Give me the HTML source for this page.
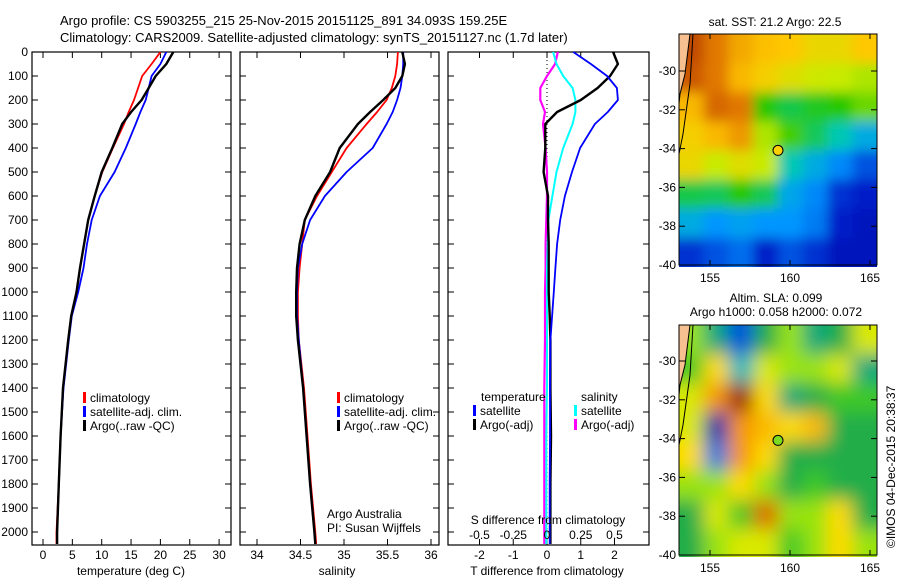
<!DOCTYPE html>
<html><head><meta charset="utf-8"><style>
body{margin:0;background:#fff}
svg{display:block;font-family:"Liberation Sans",sans-serif;font-size:12px}
</style></head><body>
<svg id="fig" width="900" height="580" viewBox="0 0 900 580" xmlns="http://www.w3.org/2000/svg">
<defs><filter id="blur" x="-20%" y="-20%" width="140%" height="140%"><feGaussianBlur stdDeviation="9"/></filter>
<filter id="blur2" x="-20%" y="-20%" width="140%" height="140%"><feGaussianBlur stdDeviation="6"/></filter>
<clipPath id="c1"><rect x="679" y="34" width="198" height="233"/></clipPath>
<clipPath id="c2"><rect x="679" y="325" width="198" height="232"/></clipPath></defs>
<text x="60" y="25" font-size="13">Argo profile: CS 5903255_215 25-Nov-2015 20151125_891 34.093S 159.25E</text>
<text x="60" y="42" font-size="13">Climatology: CARS2009. Satellite-adjusted climatology: synTS_20151127.nc (1.7d later)</text>
<g id="g"></g>
</svg>
<script>
// depth levels (dbar)
const depths=[0,50,100,150,200,250,300,400,500,600,700,800,900,1000,1100,1200,1400,1600,1800,2000,2050];
// temperature (deg C)
const tempArgo=[22.2,21.0,19.2,18.0,16.8,15.0,13.5,11.8,10.0,8.8,7.7,7.0,6.3,5.7,4.8,4.3,3.4,3.0,2.7,2.4,2.4];
const tempClim=[20.0,18.5,16.9,16.2,15.5,14.6,13.8,11.9,10.1,8.8,7.7,7.0,6.3,5.7,4.8,4.3,3.4,3.0,2.7,2.3,2.3];
const tempSat=[21.0,20.0,18.5,18.0,17.5,16.6,15.8,14.1,12.2,9.7,8.3,7.5,6.9,6.0,4.9,4.4,3.5,3.0,2.7,2.4,2.4];
// salinity
const salArgo=[35.67,35.70,35.67,35.59,35.45,35.30,35.16,34.95,34.84,34.67,34.55,34.49,34.46,34.45,34.45,34.47,34.53,34.57,34.61,34.66,34.67];
const salClim=[35.62,35.61,35.59,35.55,35.49,35.38,35.26,35.03,34.86,34.69,34.55,34.52,34.49,34.47,34.47,34.48,34.54,34.58,34.62,34.67,34.68];
const salSat=[35.68,35.68,35.67,35.65,35.61,35.56,35.49,35.33,35.03,34.78,34.61,34.52,34.47,34.46,34.46,34.48,34.53,34.57,34.61,34.66,34.67];
// differences from climatology
const dTArgo=[1.96,2.1,1.87,1.5,1.0,0.3,-0.05,-0.05,-0.1,0.03,0.03,0.05,0.05,0.05,0.08,0.1,0.1,0.12,0.1,0.1,0.1];
const dTSat=[0.78,1.3,1.78,2.07,2.1,1.8,1.42,0.98,0.74,0.53,0.39,0.3,0.25,0.2,0.15,0.1,0.09,0.09,0.08,0.08,0.08];
const dSSat=[0.045,0.07,0.12,0.19,0.21,0.21,0.19,0.12,0.07,0.04,0.01,0.005,0,0,0,0,0,-0.005,-0.005,-0.005,-0.005];
const dSArgo=[0.08,0.06,0.0,-0.05,-0.05,-0.015,-0.03,-0.01,0,0,-0.005,-0.01,-0.01,-0.015,-0.015,-0.015,-0.02,-0.02,-0.02,-0.02,-0.02];
const depthTicks=[0,100,200,300,400,500,600,700,800,900,1000,1100,1200,1300,1400,1500,1600,1700,1800,1900,2000];
const tTicks=[0,5,10,15,20,25,30];
const sTicks=[34,34.5,35,35.5,36];
const dTTicks=[-2,-1,0,1,2];
const dSTicks=[-0.5,-0.25,0,0.25,0.5];
const latTicks=[-30,-32,-34,-36,-38,-40];
const lonTicks=[155,160,165];
// SST map grid (colour index 0..1), rows north->south
const sstGrid=[
[0.88,0.82,0.76,0.73,0.72,0.68,0.68,0.72],
[0.86,0.82,0.74,0.70,0.66,0.63,0.62,0.60],
[0.74,0.84,0.82,0.50,0.46,0.48,0.50,0.55],
[0.70,0.74,0.78,0.60,0.52,0.45,0.40,0.34],
[0.68,0.62,0.66,0.62,0.40,0.34,0.28,0.20],
[0.46,0.45,0.50,0.45,0.33,0.28,0.15,0.12],
[0.34,0.30,0.32,0.30,0.30,0.26,0.12,0.10],
[0.15,0.20,0.24,0.12,0.20,0.15,0.10,0.10]];
// SLA map grid (m-ish, -1..1)
const slaGrid=[
[0.1,-0.2,-0.6,-0.1,0.1,-0.2,-0.1,0.2],
[0.0,0.3,-0.3,0.2,0.1,0.1,0.2,-0.2],
[0.2,0.5,0.9,0.3,-0.2,-0.1,0.0,0.0],
[0.2,-0.8,0.5,0.4,0.3,0.4,-0.1,-0.1],
[0.3,-0.5,0.5,0.3,-0.1,-0.1,-0.1,-0.1],
[0.1,0.1,0.3,0.1,-0.1,0.0,-0.1,-0.1],
[-0.1,0.2,0.0,0.6,0.1,0.1,0.3,-0.1],
[-0.1,0.1,0.2,0.2,0.0,0.1,0.3,0.1]];

const NS="http://www.w3.org/2000/svg";const G=document.getElementById('g');
function mk(t,a,p){const e=document.createElementNS(NS,t);for(const k in a)e.setAttribute(k,a[k]);(p||G).appendChild(e);return e;}
const Y=d=>52+d*0.24;
function panel(x0,x1,X,ticks,fmt,name){
  const r=mk('rect',{x:x0,y:52,width:x1-x0,height:493,fill:'none',stroke:'#000','stroke-width':1.2});
  
  
  depthTicks.forEach(d=>{mk('line',{x1:x0,x2:x0+6,y1:Y(d),y2:Y(d),stroke:'#000'});mk('line',{x1:x1-6,x2:x1,y1:Y(d),y2:Y(d),stroke:'#000'});});
  ticks.forEach(v=>{const x=X(v);mk('line',{x1:x,x2:x,y1:545,y2:539,stroke:'#000'});mk('line',{x1:x,x2:x,y1:52,y2:58,stroke:'#000'});
    if(fmt){const t=mk('text',{x:x,y:559,'text-anchor':'middle'});t.textContent=fmt(v);
    
    }});
}
function line(X,vals,col,w,name){const p=depths.map((d,i)=>X(vals[i]).toFixed(1)+','+Y(d).toFixed(1)).join(' ');
  const e=mk('polyline',{points:p,fill:'none',stroke:col,'stroke-width':w,'stroke-linejoin':'round'});
  
  }
function txt(x,y,s,name,a){const t=mk('text',Object.assign({x:x,y:y},a||{}));t.textContent=s;
  
  return t;}
function leg(x,y,col,s,name){mk('rect',{x:x,y:y-10,width:3,height:11,fill:col});txt(x+7,y,s,name);}
// panel 1
const XT=v=>43+v*5.87;
panel(32,231,XT,tTicks,v=>v,'temperature-panel');
depthTicks.forEach(d=>txt(28,Y(d)+4,d,'depth-tick-label',{'text-anchor':'end'}));
line(XT,tempClim,'#f00',1.8,'temp-climatology-line');line(XT,tempSat,'#00f',1.8,'temp-satellite-line');line(XT,tempArgo,'#000',2.4,'temp-argo-line');
txt(131,575,'temperature (deg C)','x-axis-title-temperature',{'text-anchor':'middle'});
leg(83,402,'#f00','climatology','legend-climatology');leg(83,416,'#00f','satellite-adj. clim.','legend-satellite');leg(83,430,'#000','Argo(..raw -QC)','legend-argo');
// panel 2
const XS=v=>257+(v-34)*87;
panel(240,439,XS,sTicks,v=>v,'salinity-panel');
line(XS,salClim,'#f00',1.8,'sal-climatology-line');line(XS,salSat,'#00f',1.8,'sal-satellite-line');line(XS,salArgo,'#000',2.4,'sal-argo-line');
txt(337,575,'salinity','x-axis-title-salinity',{'text-anchor':'middle'});
leg(337,402,'#f00','climatology','legend-climatology');leg(337,416,'#00f','satellite-adj. clim.','legend-satellite');leg(337,430,'#000','Argo(..raw -QC)','legend-argo');
txt(327,518,'Argo Australia','credit-argo');txt(327,532,'PI: Susan Wijffels','credit-pi');
// panel 3
const XD=v=>547+v*33.75, XDS=v=>547+v*135;
panel(448,649,XD,dTTicks,v=>v,'difference-panel');
mk('line',{x1:547,x2:547,y1:52,y2:545,stroke:'#000','stroke-dasharray':'1,3'});
line(XDS,dSArgo,'#f0f',2.2,'sdiff-argo-line');line(XDS,dSSat,'#0ff',2,'sdiff-satellite-line');
line(XD,dTArgo,'#000',2.4,'tdiff-argo-line');line(XD,dTSat,'#00f',1.8,'tdiff-satellite-line');
dSTicks.forEach(v=>txt(XDS(v),539,v,'sdiff-tick-label',{'text-anchor':'middle'}));
txt(548,524,'S difference from climatology','sdiff-axis-title',{'text-anchor':'middle'});
txt(547,575,'T difference from climatology','tdiff-axis-title',{'text-anchor':'middle'});
txt(481,401,'temperature','legend-temperature-head');txt(581,401,'salinity','legend-salinity-head');
leg(473,415,'#00f','satellite','legend-t-satellite');leg(473,429,'#000','Argo(-adj)','legend-t-argo');
leg(574,415,'#0ff','satellite','legend-s-satellite');leg(574,429,'#f0f','Argo(-adj)','legend-s-argo');
// maps
function jet(v){const st=[[0,[0,0,130]],[0.12,[0,30,200]],[0.3,[0,150,255]],[0.4,[0,200,180]],[0.5,[40,200,0]],[0.62,[200,235,0]],[0.72,[255,200,0]],[0.82,[225,120,0]],[0.92,[170,40,0]],[1,[130,0,0]]];
 for(let i=1;i<st.length;i++)if(v<=st[i][0]){const a=st[i-1],b=st[i],f=(v-a[0])/(b[0]-a[0]);return 'rgb('+a[1].map((c,j)=>Math.round(c+(b[1][j]-c)*f)).join(',')+')';}return 'rgb(130,0,0)';}
function slac(v){const st=[[-1,[0,0,120]],[-0.6,[0,80,220]],[-0.35,[0,190,220]],[-0.15,[20,160,90]],[0,[60,200,40]],[0.15,[200,240,0]],[0.3,[255,220,0]],[0.5,[245,150,0]],[0.7,[200,60,0]],[1,[130,0,0]]];
 for(let i=1;i<st.length;i++)if(v<=st[i][0]){const a=st[i-1],b=st[i],f=(v-a[0])/(b[0]-a[0]);return 'rgb('+a[1].map((c,j)=>Math.round(c+(b[1][j]-c)*f)).join(',')+')';}return 'rgb(130,0,0)';}
const LX=lon=>710+(lon-155)*16;
function map(top,lat30,grid,cf,clip,filt,name,dotCol){
  const LY=lat=>lat30+(-30-lat)*19.4;
  const g=mk('g',{'clip-path':'url(#'+clip+')'});
  
  
  const gi=mk('g',{filter:'url(#'+filt+')'},g);
  const cw=198/8,ch=233/8;
  grid.forEach((row,r)=>row.forEach((v,c)=>{
    const x=679+c*cw-(c==0?20:0), y=top+r*ch-(r==0?20:0);
    const w=cw+1+(c==0?20:0)+(c==7?20:0), h=ch+1+(r==0?20:0)+(r==7?20:0);
    const e=mk('rect',{x:x,y:y,width:w,height:h,fill:cf(v)},gi);
    
    }));
  mk('polygon',{points:`679,${top} 690,${top} 685,${top+40} 680,${top+60} 679,${top+70}`,fill:'#f7c090',stroke:'#000'},g);
  mk('polyline',{points:`693,${top} 690,${top+50} 683,${top+100} 679,${top+120}`,fill:'none',stroke:'#000'},g);
  mk('rect',{x:679,y:top,width:198,height:LY(-40)-top,fill:'none',stroke:'#000'});
  latTicks.forEach(l=>{const y=LY(l);mk('line',{x1:679,x2:685,y1:y,y2:y,stroke:'#000'});mk('line',{x1:871,x2:877,y1:y,y2:y,stroke:'#000'});txt(676,y+4,l,'lat-tick-label',{'text-anchor':'end'});});
  lonTicks.forEach(l=>{const x=LX(l);const yb=LY(-40);mk('line',{x1:x,x2:x,y1:yb,y2:yb-5,stroke:'#000'});mk('line',{x1:x,x2:x,y1:top,y2:top+5,stroke:'#000'});txt(x,yb+17,l,'lon-tick-label',{'text-anchor':'middle'});});
  const c=mk('circle',{cx:LX(159.25),cy:LY(-34.093),r:5,fill:dotCol,stroke:'#000'});
  
  
}
map(34,71,sstGrid,jet,'c1','blur2','sst-map','#ffd000');
map(325,361,slaGrid,slac,'c2','blur','sla-map','#7ddc20');
txt(775,26,'sat. SST: 21.2 Argo: 22.5','sst-map-title',{'text-anchor':'middle'});
txt(776,302,'Altim. SLA: 0.099','sla-map-title',{'text-anchor':'middle'});
txt(776,316,'Argo h1000: 0.058 h2000: 0.072','sla-map-subtitle',{'text-anchor':'middle'});
txt(0,0,'©IMOS 04-Dec-2015 20:38:37','timestamp',{transform:'translate(895,548) rotate(-90)'});
</script>
</body></html>
